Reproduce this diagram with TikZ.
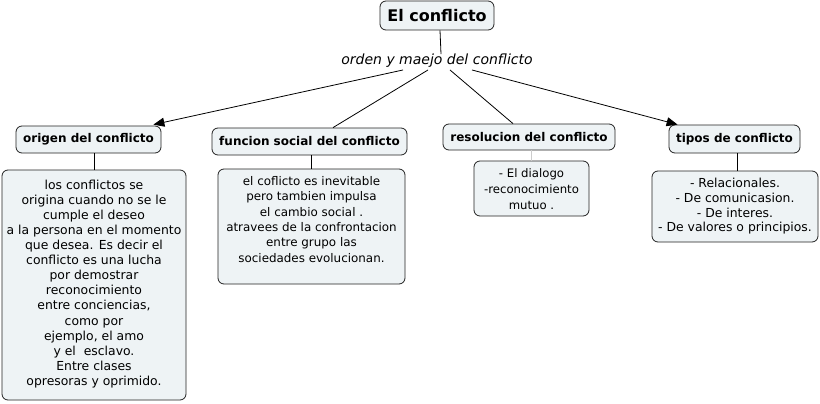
\documentclass[tikz,border=0pt]{standalone}
\usepackage{fontspec}
\setmainfont{DejaVu Sans}
\usetikzlibrary{arrows.meta,calc}
\definecolor{boxfill}{HTML}{EEF3F5}
\definecolor{boxline}{HTML}{222222}
\begin{document}
\begin{tikzpicture}[x=1pt,y=-1pt,
  box/.style={draw=boxline, fill=boxfill, rounded corners=6pt, line width=0.8pt, inner sep=0pt},
  head/.style={box, font=\bfseries\fontsize{12}{14}\selectfont},
  bodytext/.style={align=center, inner sep=0pt, anchor=north},
  conn/.style={line width=0.8pt, draw=black},
  arr/.style={conn, -{Triangle[length=11pt,width=9pt]}}]
\useasboundingbox[fill=white] (0,0) rectangle (820,404);
\node[box, minimum width=114pt, minimum height=29pt, font=\bfseries\fontsize{16}{19}\selectfont] (root) at (437,15.5) {El conflicto};
\node[font=\itshape\fontsize{14}{16}\selectfont, inner sep=0pt] (lbl) at (437,61) {orden y maejo del conflicto};
% heads
\node[head, minimum width=145pt, minimum height=27pt] (ori) at (88.5,139.5) {origen del conflicto};
\node[head, minimum width=195pt, minimum height=27pt] (fun) at (309.5,141.5) {funcion social del conflicto};
\node[head, minimum width=172pt, minimum height=26pt] (res) at (529,137) {resolucion del conflicto};
\node[head, minimum width=131pt, minimum height=28pt] (tip) at (734.5,139) {tipos de conflicto};
% bodies
\node[box, minimum width=184pt, minimum height=230pt] (orib) at (94,285) {};
\node[box, minimum width=187pt, minimum height=115pt] (funb) at (311.5,226.5) {};
\node[box, minimum width=115pt, minimum height=55pt] (resb) at (531.5,188.5) {};
\node[box, minimum width=166pt, minimum height=71pt] (tipb) at (735,206.5) {};
\node[bodytext, font=\fontsize{12.4}{15.1}\selectfont] (orit) at ($(orib.north)+(0,9.9)$) {los conflictos se\\ origina cuando no se le\\ cumple el deseo\\ a la persona en el momento\\ que desea. Es decir el\\ conflicto es una lucha\\ por demostrar\\ reconocimiento\\ entre conciencias,\\ como por\\ ejemplo, el amo\\ y el\ \ esclavo.\\ Entre clases\\ opresoras y oprimido.};
\node[bodytext, font=\fontsize{11.9}{15.3}\selectfont] (funt) at ($(funb.north)+(0,7.8)$) {el coflicto es inevitable\\ pero tambien impulsa\\ el cambio social .\\ atravees de la confrontacion\\ entre grupo las\\ sociedades evolucionan.};
\node[bodytext, font=\fontsize{11.7}{16.3}\selectfont] (rest) at ($(resb.north)+(0,7.5)$) {- El dialogo\\ -reconocimiento\\ mutuo .};
\node[bodytext, font=\fontsize{12.4}{14.6}\selectfont] (tipt) at ($(tipb.north)+(0,7.6)$) {- Relacionales.\\ - De comunicasion.\\ - De interes.\\ - De valores o principios.};
% connectors
\draw[conn] ($(root.south)+(3,0)$) -- ($(lbl.north)+(4,0)$);
\draw[arr] ($(lbl.south)+(-34,2)$) -- ($(ori.north east)+(-8,-1)$);
\draw[conn] ($(lbl.south)+(-9,2)$) -- ($(fun.north)+(23.5,0)$);
\draw[conn] ($(lbl.south)+(13,2)$) -- ($(res.north)+(-16,0)$);
\draw[arr] ($(lbl.south)+(35,2)$) -- ($(tip.north west)+(9,0)$);
\draw[conn] (ori.south -| orib.north) -- (orib.north);
\draw[conn] (fun.south -| funb.north) -- (funb.north);
\draw[conn, draw=gray!40] (res.south -| resb.north) -- (resb.north);
\draw[conn] ($(tip.south)+(2.5,0)$) -- ($(tipb.north)+(2,0)$);
\end{tikzpicture}
\end{document}
